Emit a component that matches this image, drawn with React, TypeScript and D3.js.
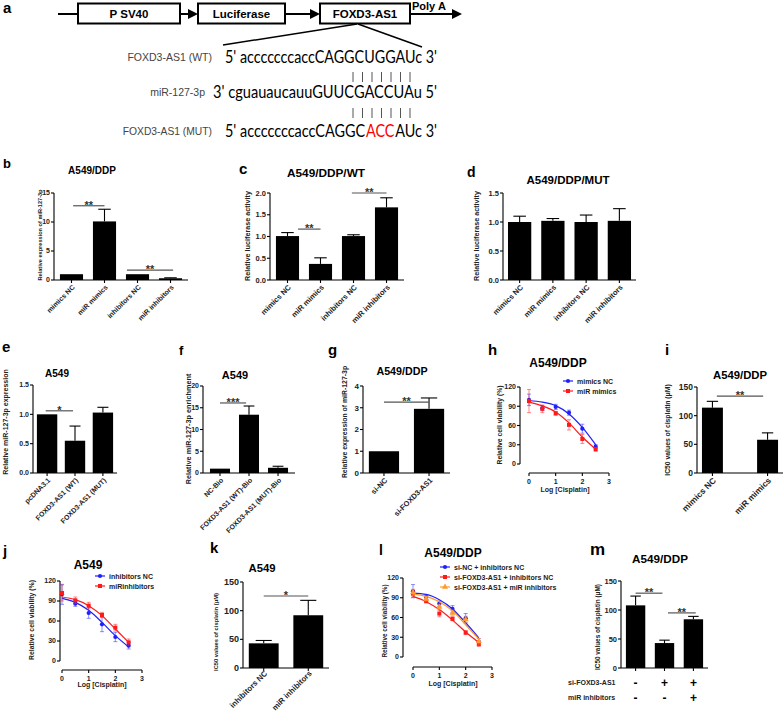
import React from "react";
import * as d3 from "d3";

const SANS = "'Liberation Sans', Arial, Helvetica, sans-serif";
const SEQ = "Lato, 'Open Sans', sans-serif";
const SEQ_SIZE = 17.5;

// ---------------- panel a ----------------
const constructParts = ["P SV40", "Luciferase", "FOXD3-AS1"];
const seqWT = "5' acccccccaccCAGGCUGGAUc 3'";
const seqMiR = "3' cguauaucauuGUUCGACCUAu 5'";
const seqMutParts = ["5' acccccccaccCAGGC", "ACC", "AUc 3'"];
const seqMutColors = ["#000", "#ff0000", "#000"];
const seqLabels = ["FOXD3-AS1 (WT)", "miR-127-3p", "FOXD3-AS1 (MUT)"];
const pairCount = 7;

// ---------------- bar panels ----------------
const mimInhCats = ["mimics NC", "miR mimics", "inhibitors NC", "miR inhibitors"];
const bVals = [1.0, 10.1, 1.0, 0.3];
const bErrs = [0, 2.1, 0, 0.08];
const bTicks = [0, 5, 10, 15];
const bSig = [
  { from: 0.05, to: 1.0, y: 12.8, label: "**" },
  { from: 1.68, to: 3.08, y: 1.7, label: "**" },
];

const cVals = [1.01, 0.37, 1.01, 1.67];
const cErrs = [0.08, 0.14, 0.03, 0.22];
const cTicks = [0, 0.5, 1.0, 1.5, 2.0];
const cSig = [
  { from: 0.32, to: 1.0, y: 1.17, label: "**" },
  { from: 1.95, to: 3.0, y: 2.0, label: "**" },
];

const dVals = [1.0, 1.02, 1.0, 1.02];
const dErrs = [0.1, 0.04, 0.12, 0.21];
const dTicks = [0, 0.5, 1.0, 1.5];

const eCats = ["pcDNA3.1", "FOXD3-AS1 (WT)", "FOXD3-AS1 (MUT)"];
const eVals = [1.0, 0.55, 1.03];
const eErrs = [0, 0.25, 0.09];
const eTicks = [0, 0.5, 1.0, 1.5];
const eSig = [{ from: -0.05, to: 0.93, y: 1.06, label: "*" }];

const fCats = ["NC-Bio", "FOXD3-AS1 (WT)-Bio", "FOXD3-AS1 (MUT)-Bio"];
const fVals = [1.0, 13.4, 1.2];
const fErrs = [0, 2.0, 0.35];
const fTicks = [0, 5, 10, 15, 20];
const fSig = [{ from: 0, to: 0.9, y: 16.1, label: "***" }];

const gCats = ["si-NC", "si-FOXD3-AS1"];
const gVals = [1.0, 2.95];
const gErrs = [0, 0.5];
const gTicks = [0, 1, 2, 3, 4];
const gSig = [{ from: 0, to: 1.0, y: 3.26, label: "**" }];

const iCats = ["mimics NC", "miR mimics"];
const iVals = [114, 58];
const iErrs = [11, 12];
const icTicks = [0, 50, 100, 150];
const iSig = [{ from: 0.08, to: 0.92, y: 134, label: "**" }];

const kCats = ["inhibitors NC", "miR inhibitors"];
const kVals = [43, 92];
const kErrs = [5, 26];
const kSig = [{ from: 0, to: 1.0, y: 125.6, label: "*" }];

const mCats = ["si-NC", "si-FOXD3-AS1", "si-FOXD3-AS1 + miR inhibitors"];
const mVals = [108, 43, 84];
const mErrs = [16, 5, 5];
const mSig = [
  { from: 0, to: 0.93, y: 129, label: "**" },
  { from: 1.12, to: 2.08, y: 95, label: "**" },
];
const mRowLabels = ["si-FOXD3-AS1", "miR inhibitors"];
const mRowSi = ["-", "+", "+"];
const mRowInh = ["-", "-", "+"];

// ---------------- dose–response panels ----------------
const doseLog = [0, 0.5, 1, 1.5, 2, 2.5];
const viabTicks = [0, 30, 60, 90, 120];
const logTicks = [0, 1, 2, 3];

const hNC = [100, 87, 89, 80, 55, 27];
const hNCErr = [9, 4, 4, 4, 7, 3];
const hNCFit = [99, 96.5, 91, 78, 57, 30];
const hMim = [98, 86, 79, 61, 39, 23];
const hMimErr = [18, 6, 3, 8, 7, 3];
const hMimFit = [96.5, 90.5, 81, 64, 42, 23];

const jNC = [100, 86, 72, 55, 36, 23];
const jNCErr = [15, 4, 8, 11, 7, 5];
const jNCFit = [94, 88, 76, 58, 38, 21];
const jInh = [102, 91, 83, 69, 50, 28];
const jInhErr = [12, 5, 5, 4, 5, 5];
const jInhFit = [96, 92, 83, 68, 48, 28];

const lNC = [100, 91, 81, 73, 59, 23];
const lNCErr = [10, 3, 4, 5, 7, 5];
const lNCFit = [97, 95, 87, 73, 52, 29];
const lSi = [96, 85, 66, 58, 37, 20];
const lSiErr = [5, 3, 5, 3, 3, 4];
const lSiFit = [92, 84, 72, 56, 38, 22];
const lSiInh = [98, 88, 76, 67, 57, 24];
const lSiInhErr = [5, 3, 4, 4, 5, 4];
const lSiInhFit = [96, 92, 84, 70, 49, 27];

const BLUE = "#1f1fff";
const RED = "#ff1a1a";
const ORANGE = "#ff9a2e";

// ======================================================
function measure(text: string, font: string): number {
  try {
    const ctx = document.createElement("canvas").getContext("2d");
    if (ctx) {
      ctx.font = font;
      return ctx.measureText(text).width;
    }
  } catch (e) {}
  return text.length * 8;
}

function Arrow({ x1, x2, y }: { x1: number; x2: number; y: number }) {
  return (
    <g>
      <line x1={x1} x2={x2 - 8} y1={y} y2={y} stroke="#000" strokeWidth={2} />
      <path d={`M${x2},${y} L${x2 - 10},${y - 5} L${x2 - 10},${y + 5} Z`} fill="#000" />
    </g>
  );
}

function MutSequence({ x, y, width }: { x: number; y: number; width: number }) {
  const font = `${SEQ_SIZE}px Lato, 'Open Sans', sans-serif`;
  const gap = 0.8;
  const widths = seqMutParts.map((s) => measure(s, font));
  const total = d3.sum(widths);
  const k = (width - gap * (seqMutParts.length - 1)) / total;
  let acc = 0;
  return (
    <g>
      {seqMutParts.map((s, i) => {
        const px = x + acc * k + i * gap;
        acc += widths[i];
        return (
          <text
            key={i}
            x={px}
            y={y}
            fontFamily={SEQ}
            fontSize={SEQ_SIZE}
            fill={seqMutColors[i]}
            textLength={widths[i] * k}
            lengthAdjust="spacingAndGlyphs"
          >
            {s}
          </text>
        );
      })}
    </g>
  );
}

function PanelA() {
  const ly = 14;
  const boxes = [
    { x: 78, w: 102 },
    { x: 198, w: 87 },
    { x: 320, w: 90 },
  ];
  const pairX = d3.range(pairCount).map((i) => 353 + i * 9.5);
  return (
    <g>
      <text x={3} y={13} fontSize={15} fontWeight="bold">a</text>
      <line x1={58} x2={78} y1={ly} y2={ly} stroke="#000" strokeWidth={2} />
      <Arrow x1={180} x2={198} y={ly} />
      <Arrow x1={285} x2={320} y={ly} />
      <Arrow x1={410} x2={462} y={ly} />
      {boxes.map((b, i) => (
        <g key={i}>
          <rect x={b.x} y={3.5} width={b.w} height={20} fill="#fff" stroke="#000" strokeWidth={2} />
          <text x={b.x + b.w / 2} y={17.8} textAnchor="middle" fontSize={11.5} fontWeight="bold">
            {constructParts[i]}
          </text>
        </g>
      ))}
      <text x={412} y={10} fontSize={11} fontWeight="bold">Poly A</text>
      <line x1={357} y1={24} x2={223} y2={45} stroke="#000" strokeWidth={1.5} />
      <line x1={358} y1={24} x2={422} y2={47} stroke="#000" strokeWidth={1.5} />

      <text x={212} y={61} textAnchor="end" fontSize={10.5} fill="#444">{seqLabels[0]}</text>
      <text x={225} y={63} fontFamily={SEQ} fontSize={SEQ_SIZE} textLength={212} lengthAdjust="spacingAndGlyphs">
        {seqWT}
      </text>
      {pairX.map((px, i) => (
        <line key={"p1" + i} x1={px} x2={px} y1={72} y2={82} stroke="#555" strokeWidth={1} />
      ))}
      <text x={205} y={96} textAnchor="end" fontSize={10.5} fill="#444">{seqLabels[1]}</text>
      <text x={213} y={98} fontFamily={SEQ} fontSize={SEQ_SIZE} textLength={224} lengthAdjust="spacingAndGlyphs">
        {seqMiR}
      </text>
      {pairX.map((px, i) => (
        <line key={"p2" + i} x1={px} x2={px} y1={108} y2={118} stroke="#555" strokeWidth={1} />
      ))}
      <text x={212} y={135} textAnchor="end" fontSize={10.3} fill="#444">{seqLabels[2]}</text>
      <MutSequence x={225} y={137} width={212} />
    </g>
  );
}

type Sig = { from: number; to: number; y: number; label: string };

function BarPanel(p: any) {
  const x = d3
    .scaleBand<string>()
    .domain(p.cats)
    .range([p.x0, p.x1])
    .paddingInner(p.pi)
    .paddingOuter(p.po);
  const y = d3.scaleLinear().domain([0, p.yMax]).range([p.yBase, p.yTop]);
  const bw = x.bandwidth();
  const cx = (c: string) => (x(c) as number) + bw / 2;
  const ux = (u: number) => cx(p.cats[0]) + u * x.step();
  const fmt = p.fmt || ((v: number) => String(v));
  const sigs: Sig[] = p.sigs || [];
  const xlOff = p.xlabOff ?? 6;
  return (
    <g>
      <text x={p.letter[1]} y={p.letter[2]} fontSize={p.letterSize || 15} fontWeight="bold">
        {p.letter[0]}
      </text>
      <text x={p.titleX} y={p.titleY} fontSize={p.titleSize} fontWeight="bold" textAnchor="middle">
        {p.title}
      </text>
      <text
        transform={`translate(${p.ylabX},${p.ylabY}) rotate(-90)`}
        textAnchor="middle"
        dy="0.35em"
        fontSize={p.ylabSize}
        fontWeight="bold"
        fill="#222"
      >
        {p.ylab}
      </text>
      {p.cats.map((c: string, i: number) => (
        <rect
          key={"b" + c}
          x={x(c)}
          y={y(p.vals[i])}
          width={bw}
          height={p.yBase - y(p.vals[i])}
          fill="#000"
        />
      ))}
      {p.cats.map((c: string, i: number) =>
        p.errs[i] > 0 ? (
          <g key={"e" + c} stroke="#000" strokeWidth={1.1}>
            <line x1={cx(c)} x2={cx(c)} y1={y(p.vals[i])} y2={y(p.vals[i] + p.errs[i])} />
            <line
              x1={cx(c) - bw * 0.27}
              x2={cx(c) + bw * 0.27}
              y1={y(p.vals[i] + p.errs[i])}
              y2={y(p.vals[i] + p.errs[i])}
            />
          </g>
        ) : null
      )}
      <line x1={p.x0} x2={p.x0} y1={p.yBase} y2={p.yTop} stroke="#000" strokeWidth={1.1} />
      {p.ticks.map((t: number) => (
        <g key={"t" + t}>
          <line x1={p.x0 - 3} x2={p.x0} y1={y(t)} y2={y(t)} stroke="#000" strokeWidth={1.1} />
          <text
            x={p.x0 - 4}
            y={y(t)}
            dy="0.35em"
            textAnchor="end"
            fontSize={p.tickSize || 7}
            fontWeight="bold"
            fill="#222"
          >
            {fmt(t)}
          </text>
        </g>
      ))}
      <line x1={p.x0} x2={p.x1} y1={p.yBase} y2={p.yBase} stroke="#000" strokeWidth={1.1} />
      {p.cats.map((c: string) => (
        <line key={"xt" + c} x1={cx(c)} x2={cx(c)} y1={p.yBase} y2={p.yBase + 3} stroke="#000" strokeWidth={1.1} />
      ))}
      {!p.noXLabels &&
        p.cats.map((c: string) => (
          <text
            key={"xl" + c}
            transform={`translate(${cx(c) + 2},${p.yBase + xlOff}) rotate(-45)`}
            textAnchor="end"
            dy="0.35em"
            fontSize={p.xlabSize || 7}
            fontWeight="bold"
            fill="#222"
          >
            {c}
          </text>
        ))}
      {sigs.map((s, i) => (
        <g key={"s" + i}>
          <line x1={ux(s.from)} x2={ux(s.to)} y1={y(s.y)} y2={y(s.y)} stroke="#555" strokeWidth={1.2} />
          <text
            x={(ux(s.from) + ux(s.to)) / 2}
            y={y(s.y) + 3}
            textAnchor="middle"
            fontSize={p.sigSize || 11}
            fontWeight="bold"
            fill="#333"
          >
            {s.label}
          </text>
        </g>
      ))}
      {p.rows &&
        p.rows.map((row: string[], r: number) => (
          <g key={"row" + r}>
            <text x={p.rowLabelX} y={p.rowYs[r]} fontSize={7} fontWeight="bold" fill="#222">
              {p.rowLabels[r]}
            </text>
            {p.cats.map((c: string, i: number) => (
              <text
                key={"rs" + i}
                x={cx(c)}
                y={p.rowYs[r] + 2}
                textAnchor="middle"
                fontSize={12}
                fontWeight="bold"
              >
                {row[i]}
              </text>
            ))}
          </g>
        ))}
    </g>
  );
}

function Marker({ shape, x, y, color }: any) {
  if (shape === "circle") return <circle cx={x} cy={y} r={2.1} fill={color} />;
  if (shape === "square") return <rect x={x - 2} y={y - 2} width={4} height={4} fill={color} />;
  const sym = d3.symbol(d3.symbolTriangle, 16)() as string;
  return <path d={sym} transform={`translate(${x},${y})`} fill={color} />;
}

function LinePanel(p: any) {
  const x = d3.scaleLinear().domain([0, 3]).range([p.xx0, p.xx1]);
  const y = d3.scaleLinear().domain([0, 120]).range([p.yBase, p.yTop]);
  const line = d3
    .line<[number, number]>()
    .x((d) => x(d[0]))
    .y((d) => y(d[1]))
    .curve(d3.curveMonotoneX);
  return (
    <g>
      <text x={p.letter[1]} y={p.letter[2]} fontSize={p.letterSize || 15} fontWeight="bold">
        {p.letter[0]}
      </text>
      <text x={p.titleX} y={p.titleY} fontSize={p.titleSize} fontWeight="bold" textAnchor="middle">
        {p.title}
      </text>
      <text
        transform={`translate(${p.ylabX},${p.ylabY}) rotate(-90)`}
        textAnchor="middle"
        dy="0.35em"
        fontSize={p.ylabSize}
        fontWeight="bold"
        fill="#222"
      >
        Relative cell viability (%)
      </text>
      <line x1={p.yAxisX} x2={p.yAxisX} y1={p.yBase} y2={p.yTop} stroke="#000" strokeWidth={1.1} />
      {viabTicks.map((t) => (
        <g key={"yt" + t}>
          <line x1={p.yAxisX - 3} x2={p.yAxisX} y1={y(t)} y2={y(t)} stroke="#000" strokeWidth={1.1} />
          <text x={p.yAxisX - 4} y={y(t)} dy="0.35em" textAnchor="end" fontSize={7} fontWeight="bold" fill="#222">
            {t}
          </text>
        </g>
      ))}
      <line x1={x(0)} x2={x(3)} y1={p.xAxisY} y2={p.xAxisY} stroke="#000" strokeWidth={1.1} />
      {logTicks.map((t) => (
        <g key={"xt" + t}>
          <line x1={x(t)} x2={x(t)} y1={p.xAxisY} y2={p.xAxisY + 3} stroke="#000" strokeWidth={1.1} />
          <text x={x(t)} y={p.xAxisY + 11} textAnchor="middle" fontSize={7} fontWeight="bold" fill="#222">
            {t}
          </text>
        </g>
      ))}
      <text x={p.xlabX} y={p.xlabY} textAnchor="middle" fontSize={7} fontWeight="bold" fill="#222">
        Log [Cisplatin]
      </text>
      {p.series.map((s: any, si: number) => (
        <g key={"s" + si}>
          <path
            d={line(doseLog.map((d, i) => [d, s.fit[i]] as [number, number])) as string}
            fill="none"
            stroke={s.color}
            strokeWidth={1.2}
          />
          {doseLog.map((d, i) => (
            <g key={"e" + i} stroke={s.color} strokeOpacity={0.5} strokeWidth={1}>
              <line x1={x(d)} x2={x(d)} y1={y(s.vals[i] - s.errs[i])} y2={y(s.vals[i] + s.errs[i])} />
              <line x1={x(d) - 2} x2={x(d) + 2} y1={y(s.vals[i] - s.errs[i])} y2={y(s.vals[i] - s.errs[i])} />
              <line x1={x(d) - 2} x2={x(d) + 2} y1={y(s.vals[i] + s.errs[i])} y2={y(s.vals[i] + s.errs[i])} />
            </g>
          ))}
          {doseLog.map((d, i) => (
            <Marker key={"m" + i} shape={s.shape} x={x(d)} y={y(s.vals[i])} color={s.color} />
          ))}
        </g>
      ))}
      {p.series.map((s: any, si: number) => (
        <g key={"lg" + si}>
          <line
            x1={p.legX}
            x2={p.legX + 10}
            y1={p.legYs[si]}
            y2={p.legYs[si]}
            stroke={s.color}
            strokeWidth={1.2}
          />
          <Marker shape={s.shape} x={p.legX + 5} y={p.legYs[si]} color={s.color} />
          <text x={p.legX + 14} y={p.legYs[si] + 2.5} fontSize={7} fontWeight="bold" fill="#222">
            {s.name}
          </text>
        </g>
      ))}
    </g>
  );
}

export default function App() {
  const f1 = d3.format(".1f");
  return (
    <svg
      width={784}
      height={712}
      viewBox="0 0 784 712"
      style={{ position: "absolute", left: 0, top: 0, display: "block" }}
      fontFamily={SANS}
    >
      <rect width={784} height={712} fill="#fff" />
      <PanelA />

      <BarPanel
        cats={mimInhCats} vals={bVals} errs={bErrs} ticks={bTicks} sigs={bSig}
        x0={54} x1={188} pi={0.3} po={0.18} yBase={280} yTop={193} yMax={15}
        letter={["b", 3, 168]} letterSize={13}
        title="A549/DDP" titleX={92} titleY={174} titleSize={10}
        ylab="Relative expression of miR-127-3p" ylabX={40} ylabY={235} ylabSize={5.6}
        tickSize={7} xlabSize={7}
      />
      <BarPanel
        cats={mimInhCats} vals={cVals} errs={cErrs} ticks={cTicks} sigs={cSig} fmt={f1}
        x0={270} x1={404} pi={0.3} po={0.18} yBase={280} yTop={193} yMax={2}
        letter={["c", 239, 174]} letterSize={15}
        title="A549/DDP/WT" titleX={326} titleY={177} titleSize={11.8}
        ylab="Relative luciferase activity" ylabX={247} ylabY={236} ylabSize={7.2}
        tickSize={7.5} xlabSize={7.5}
      />
      <BarPanel
        cats={mimInhCats} vals={dVals} errs={dErrs} ticks={dTicks} fmt={f1}
        x0={503} x1={636} pi={0.3} po={0.15} yBase={280} yTop={193} yMax={1.5}
        letter={["d", 467, 177]} letterSize={14}
        title="A549/DDP/MUT" titleX={568} titleY={184} titleSize={11.5}
        ylab="Relative luciferase activity" ylabX={476} ylabY={236} ylabSize={7.2}
        tickSize={7.5} xlabSize={7.5}
      />
      <BarPanel
        cats={eCats} vals={eVals} errs={eErrs} ticks={eTicks} sigs={eSig} fmt={f1}
        x0={33} x1={117} pi={0.27} po={0.14} yBase={473} yTop={385} yMax={1.5}
        letter={["e", 2, 352]} letterSize={15}
        title="A549" titleX={57} titleY={377} titleSize={10}
        ylab="Relative miR-127-3p expression" ylabX={6} ylabY={422} ylabSize={7}
        tickSize={7} xlabSize={7}
      />
      <BarPanel
        cats={fCats} vals={fVals} errs={fErrs} ticks={fTicks} sigs={fSig}
        x0={203} x1={295} pi={0.31} po={0.24} yBase={473} yTop={386} yMax={20}
        letter={["f", 179, 355]} letterSize={13}
        title="A549" titleX={235} titleY={379} titleSize={11}
        ylab="Relative miR-127-3p enrichment" ylabX={188} ylabY={429} ylabSize={7.3}
        tickSize={7} xlabSize={7}
      />
      <BarPanel
        cats={gCats} vals={gVals} errs={gErrs} ticks={gTicks} sigs={gSig}
        x0={363} x1={450} pi={0.33} po={0.13} yBase={473} yTop={386} yMax={4}
        letter={["g", 328, 355]} letterSize={15}
        title="A549/DDP" titleX={402} titleY={375} titleSize={10.7}
        ylab="Relative expression of miR-127-3p" ylabX={345} ylabY={422} ylabSize={6.9}
        tickSize={8} xlabSize={7.5}
      />
      <LinePanel
        xx0={529} xx1={609} yAxisX={520} yBase={464} yTop={387} xAxisY={473}
        letter={["h", 488, 355]} letterSize={15}
        title="A549/DDP" titleX={558} titleY={367} titleSize={12}
        ylabX={500} ylabY={425} ylabSize={6.8}
        xlabX={565} xlabY={492}
        legX={563} legYs={[381, 391]}
        series={[
          { name: "mimics NC", color: BLUE, shape: "circle", vals: hNC, errs: hNCErr, fit: hNCFit },
          { name: "miR mimics", color: RED, shape: "square", vals: hMim, errs: hMimErr, fit: hMimFit },
        ]}
      />
      <BarPanel
        cats={iCats} vals={iVals} errs={iErrs} ticks={icTicks} sigs={iSig}
        x0={697} x1={783} pi={0.62} po={0.09} yBase={473} yTop={387} yMax={150}
        letter={["i", 665, 355]} letterSize={15}
        title="A549/DDP" titleX={740} titleY={379} titleSize={11.3}
        ylab="IC50 values of cisplatin (μM)" ylabX={668} ylabY={430} ylabSize={6.8}
        tickSize={8.5} xlabSize={8.5}
      />
      <LinePanel
        xx0={62} xx1={142} yAxisX={60} yBase={661} yTop={581} xAxisY={670}
        letter={["j", 3, 556]} letterSize={15}
        title="A549" titleX={88} titleY={569} titleSize={12}
        ylabX={32} ylabY={620} ylabSize={6.9}
        xlabX={102} xlabY={687}
        legX={95} legYs={[576, 586]}
        series={[
          { name: "inhibitors NC", color: BLUE, shape: "circle", vals: jNC, errs: jNCErr, fit: jNCFit },
          { name: "miRinhibitors", color: RED, shape: "square", vals: jInh, errs: jInhErr, fit: jInhFit },
        ]}
      />
      <BarPanel
        cats={kCats} vals={kVals} errs={kErrs} ticks={icTicks} sigs={kSig}
        x0={243} x1={329} pi={0.33} po={0.13} yBase={668} yTop={582} yMax={150}
        letter={["k", 210, 553]} letterSize={15}
        title="A549" titleX={262} titleY={572} titleSize={11.3}
        ylab="IC50 values of cisplatin (μM)" ylabX={216} ylabY={632} ylabSize={5.8}
        tickSize={9} xlabSize={7.8} xlabOff={4}
      />
      <LinePanel
        xx0={413} xx1={492} yAxisX={403} yBase={657} yTop={578} xAxisY={667}
        letter={["l", 379, 555]} letterSize={14}
        title="A549/DDP" titleX={453} titleY={557} titleSize={12}
        ylabX={385} ylabY={621} ylabSize={6.3}
        xlabX={453} xlabY={686}
        legX={440} legYs={[567, 577, 587]}
        series={[
          { name: "si-NC + inhibitors NC", color: BLUE, shape: "circle", vals: lNC, errs: lNCErr, fit: lNCFit },
          { name: "si-FOXD3-AS1 + inhibitors NC", color: RED, shape: "square", vals: lSi, errs: lSiErr, fit: lSiFit },
          { name: "si-FOXD3-AS1 + miR inhibitors", color: ORANGE, shape: "triangle", vals: lSiInh, errs: lSiInhErr, fit: lSiInhFit },
        ]}
      />
      <BarPanel
        cats={mCats} vals={mVals} errs={mErrs} ticks={icTicks} sigs={mSig}
        x0={621} x1={708} pi={0.33} po={0.17} yBase={668} yTop={581} yMax={150}
        letter={["m", 590, 555]} letterSize={17}
        title="A549/DDP" titleX={660} titleY={563} titleSize={11.7}
        ylab="IC50 values of cisplatin (μM)" ylabX={598} ylabY={627} ylabSize={6.4}
        tickSize={7.5} noXLabels
        rows={[mRowSi, mRowInh]} rowLabels={mRowLabels} rowLabelX={568} rowYs={[685, 700]}
      />
    </svg>
  );
}
